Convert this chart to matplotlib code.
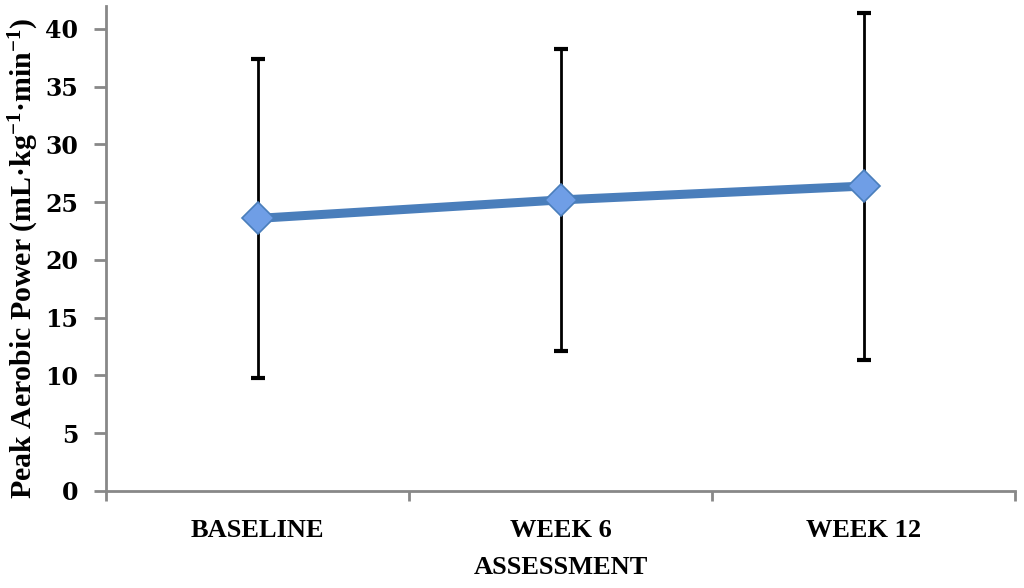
import numpy as np
import matplotlib.pyplot as plt

# Data
categories = ['BASELINE', 'WEEK 6', 'WEEK 12']
means = [23.6, 25.2, 26.4]
lower = [9.8, 12.1, 11.3]
upper = [37.4, 38.3, 41.4]

plt.rcParams['font.family'] = ['Liberation Serif', 'DejaVu Serif']
plt.rcParams['font.weight'] = 'bold'
plt.rcParams['mathtext.fontset'] = 'custom'
plt.rcParams['mathtext.rm'] = 'Liberation Serif:bold'
plt.rcParams['mathtext.it'] = 'Liberation Serif:bold'
plt.rcParams['mathtext.bf'] = 'Liberation Serif:bold'

x = np.arange(len(categories))
means = np.array(means)
yerr = np.array([means - np.array(lower), np.array(upper) - means])

fig = plt.figure(figsize=(10.24, 5.88), dpi=100)
ax = fig.add_axes([0.1035, 0.165, 0.888, 0.825])

# error bars
ax.errorbar(x, means, yerr=yerr, fmt='none', ecolor='black',
            elinewidth=2, capsize=5, capthick=3, zorder=2)
# line with diamond markers
ax.plot(x, means, color='#4a7ebb', linewidth=6.5, marker='D',
        markersize=16, markerfacecolor='#6f9ee6', markeredgecolor='#4a7ebb',
        markeredgewidth=1.2, zorder=3)

ax.set_xlim(-0.5, 2.5)
ax.set_ylim(0, 42)
ax.set_yticks(np.arange(0, 41, 5))
ax.set_xticks(x)
ax.set_xticklabels(categories, fontsize=19, fontweight='bold')
ax.set_xticks([-0.5, 0.5, 1.5, 2.5], minor=True)
ax.tick_params(axis='x', which='major', length=0, pad=20)
ax.tick_params(axis='x', which='minor', length=7, width=2, color='#888888')
ax.tick_params(axis='y', length=9, width=2, color='#888888', pad=11)
for lab in ax.get_yticklabels():
    lab.set_fontweight('bold')
    lab.set_fontfamily('DejaVu Serif')
    lab.set_fontsize(17)

for s in ['top', 'right']:
    ax.spines[s].set_visible(False)
for s in ['left', 'bottom']:
    ax.spines[s].set_color('#888888')
    ax.spines[s].set_linewidth(2)

ax.set_xlabel('ASSESSMENT', fontsize=19, fontweight='bold', labelpad=10)
# y label placed by hand like in the reference (shifted above axes centre)
fig.text(24 / 1024, 1 - 258 / 588, 'Peak Aerobic Power (mL·kg$^{-1}$·min$^{-1}$)',
         rotation=90, ha='center', va='center', fontsize=21.5, fontweight='bold')

fig.savefig('out.png', dpi=100)
